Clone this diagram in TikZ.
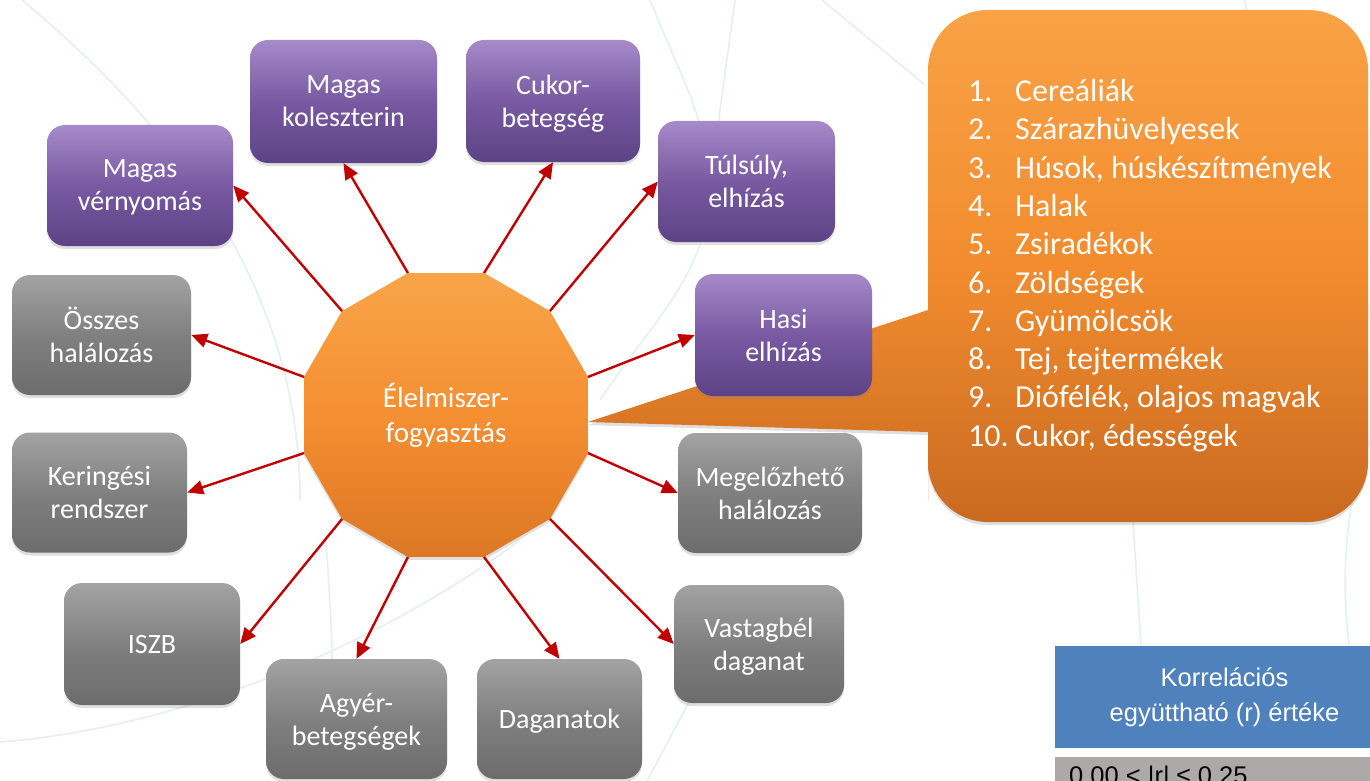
\documentclass[tikz,border=0pt]{standalone}
\usepackage{fontspec}
\setmainfont{Carlito}
\newfontfamily\tblfont{Liberation Sans}
\usetikzlibrary{shapes.geometric,arrows.meta,shadows,calc}
\definecolor{arr}{HTML}{C00000}
\definecolor{purT}{HTML}{A68AC9}
\definecolor{purM}{HTML}{7859A2}
\definecolor{purB}{HTML}{5C4385}
\definecolor{gryT}{HTML}{A3A3A3}
\definecolor{gryM}{HTML}{808080}
\definecolor{gryB}{HTML}{6C6C6C}
\definecolor{orT}{HTML}{F9A449}
\definecolor{orM}{HTML}{F48F32}
\definecolor{orB}{HTML}{DC7724}
\definecolor{coT}{HTML}{F9A246}
\definecolor{coM}{HTML}{F28C2E}
\definecolor{coB}{HTML}{C96A21}
\definecolor{tblue}{HTML}{4F81BD}
\definecolor{tgray}{HTML}{ADA9A8}
\definecolor{bgl}{HTML}{E6F0EE}
\begin{document}
\begin{tikzpicture}[x=1pt,y=-1pt,
  box/.style={rounded corners=18pt, minimum width=177pt, minimum height=121pt,
    inner sep=0pt, text=white, align=center, font=\fontsize{28}{33}\selectfont,
    text depth=-5pt,
    drop shadow={shadow xshift=0pt, shadow yshift=-3pt, opacity=0.25}},
  pbox/.style={box, top color=purT, bottom color=purB, middle color=purM},
  gbox/.style={box, top color=gryT, bottom color=gryB, middle color=gryM},
  link/.style={draw=arr, line width=2.4pt, -{Triangle[length=16pt,width=14pt]}},
  bgline/.style={draw=bgl, line width=1.6pt},
  item/.style={anchor=base west, inner sep=0pt, text=white, font=\fontsize{32}{38}\selectfont},
]
\useasboundingbox (0,0) rectangle (1370,781);
\clip (0,0) rectangle (1370,781);
\fill[white] (0,0) rectangle (1370,781);

% faint background swirls
\draw[bgline] (22,0) .. controls (190,140) and (300,300) .. (300,500);
\draw[bgline] (0,742) .. controls (180,728) and (380,645) .. (520,540);
\draw[bgline] (326,540) .. controls (330,600) and (332,640) .. (332,662);
\draw[bgline] (647,781) -- (690,700);
\draw[bgline] (822,0) -- (925,85);
\draw[bgline] (650,0) .. controls (670,50) and (690,90) .. (700,125);
\draw[bgline] (735,0) -- (718,125);
\draw[bgline] (700,245) .. controls (680,300) and (640,340) .. (600,400);
\draw[bgline] (1133,522) -- (1141,646);
\draw[bgline] (1244,0) -- (1247,10);
\draw[bgline] (1370,440) .. controls (1345,500) and (1340,580) .. (1350,650);

% callout with list
\shade[top color=coT, bottom color=coB, middle color=coM,
  drop shadow={shadow xshift=0pt, shadow yshift=-3pt, opacity=0.25}]
  (588,422) -- (928,310) -- (928,200) [rounded corners=60pt] -- (928,10) -- (1368,10)
  -- (1368,522) -- (928,522) -- (928,440) [sharp corners] -- (928,432) -- cycle;
\foreach \n/\t [count=\i from 0] in {1./Cereáliák, 2./Szárazhüvelyesek,
  3./{Húsok, húskészítmények}, 4./Halak, 5./Zsiradékok, 6./Zöldségek,
  7./Gyümölcsök, 8./{Tej, tejtermékek}, 9./{Diófélék, olajos magvak},
  10./{Cukor, édességek}}
  \node[item] (it\i) at (968,{101.5+38.3*\i}) {\makebox[47pt][l]{\n}\t};

% centre
\node[regular polygon, regular polygon sides=12, minimum size=294pt, inner sep=0pt,
  top color=orT, bottom color=orB, middle color=orM, text=white, align=center,
  font=\fontsize{29}{35}\selectfont,
  drop shadow={shadow xshift=0pt, shadow yshift=-3pt, opacity=0.25}]
  (c) at (446,415) {Élelmiszer-\\fogyasztás};
\foreach \a in {15,45,...,345}
  \coordinate (p\a) at ($(c.center)+(\a:147pt)$);

% outcome boxes
\node[pbox, minimum width=186pt] (mv) at (140,185.5) {Magas\\vérnyomás};
\node[pbox, minimum width=187pt, minimum height=123pt] (mk) at (343.5,101.5) {Magas\\koleszterin};
\node[pbox, minimum width=174pt, minimum height=122pt] (cb) at (553,101) {Cukor-\\betegség};
\node[pbox] (te) at (746.5,181.5) {Túlsúly,\\elhízás};
\node[pbox, minimum height=122pt] (he) at (783.5,335) {Hasi\\elhízás};
\node[gbox, minimum width=179pt, minimum height=120pt] (oh) at (101.5,335) {Összes\\halálozás};
\node[gbox, minimum width=175pt, minimum height=120pt] (kr) at (99.5,492.5) {Keringési\\rendszer};
\node[gbox, minimum width=176pt, minimum height=122pt] (is) at (152,644) {ISZB};
\node[gbox, minimum width=181pt, minimum height=120pt] (ab) at (356.5,719) {Agyér-\\betegségek};
\node[gbox, minimum width=165pt, minimum height=120pt] (dg) at (559.5,719) {Daganatok};
\node[gbox, minimum width=170pt, minimum height=118pt] (vd) at (759,644) {Vastagbél\\daganat};
\node[gbox, minimum width=184pt, minimum height=120pt] (mh) at (770,493) {Megelőzhető\\halálozás};

% connectors
\draw[link] (p135) -- (mv.east);
\draw[link] (p105) -- (mk.south);
\draw[link] (p75) -- (cb.south);
\draw[link] (p45) -- (te.west);
\draw[link] (p15) -- (he.west);
\draw[link] (p165) -- (oh.east);
\draw[link] (p195) -- (kr.east);
\draw[link] (p225) -- (is.east);
\draw[link] (p255) -- (ab.north);
\draw[link] (p285) -- (dg.north);
\draw[link] (p315) -- (vd.west);
\draw[link] (p345) -- (mh.west);

% correlation table
\node[fill=tblue, minimum width=339pt, minimum height=102pt, inner sep=0pt,
  text=white, align=center, font=\tblfont\fontsize{25.5}{35}\selectfont]
  (hdr) at (1224.5,697) {Korrelációs\\együttható (r) értéke};
\node[fill=tgray, minimum width=339pt, minimum height=40pt, inner sep=0pt,
  anchor=north west] (row) at (1055,757) {};
\node[anchor=base west, inner sep=0pt, font=\tblfont\fontsize{25.5}{30}\selectfont]
  (rowt) at (1069,784) {0,00 < |r| ≤ 0,25};
\end{tikzpicture}
\end{document}
